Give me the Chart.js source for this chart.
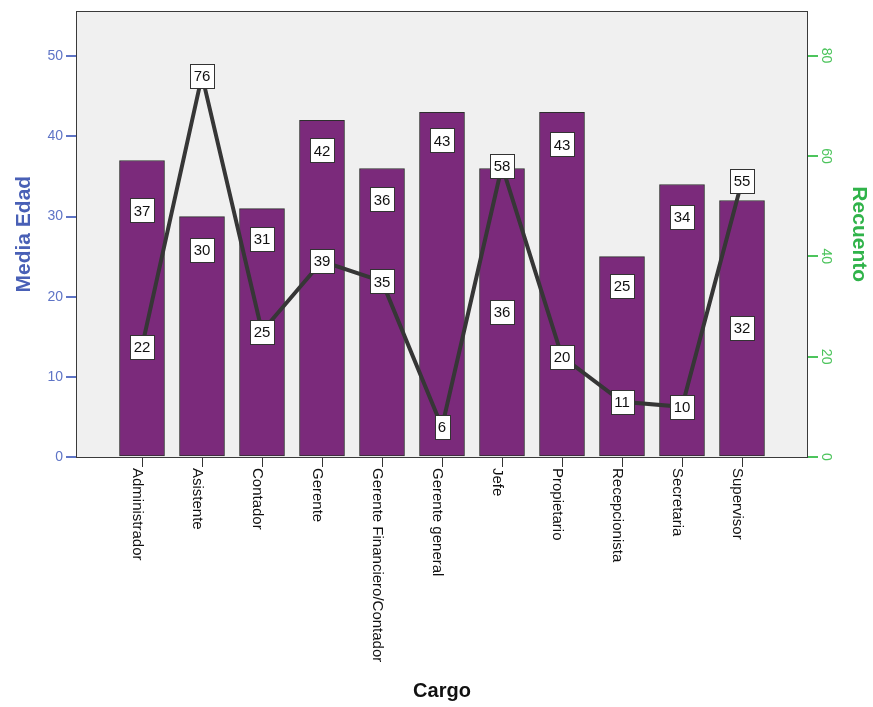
<!DOCTYPE html>
<html>
<head>
<meta charset="utf-8">
<script src="https://cdn.jsdelivr.net/npm/chart.js@4/dist/chart.umd.min.js"></script>
<style>
  html, body { margin: 0; padding: 0; background: #fff; }
  #wrap { position: relative; width: 873px; height: 707px; }
</style>
</head>
<body>
<div id="wrap"><canvas id="chart"></canvas></div>
<script>
const cargos = ['Administrador', 'Asistente', 'Contador', 'Gerente', 'Gerente Financiero/Contador',
  'Gerente general', 'Jefe', 'Propietario', 'Recepcionista', 'Secretaria', 'Supervisor'];
const mediaEdad = [37, 30, 31, 42, 36, 43, 36, 43, 25, 34, 32];
const recuento = [22, 76, 25, 39, 35, 6, 58, 20, 11, 10, 55];
const edadTicks = [0, 10, 20, 30, 40, 50];
const recuentoTicks = [0, 20, 40, 60, 80];

const FONT = '"Liberation Sans", Arial, sans-serif';
const BLUE = '#4960b6', BLUE_TICK = '#5e74c6';
const GREEN = '#30b34a', GREEN_TICK = '#4cc45c';

// how far below the bar top each bar label sits (null = middle of the bar)
const barLabelDrop = [50, 33, 30, 30, 31, 28, null, 32, 29, 32, null];

function labelBox(ctx, text, cx, cy) {
  ctx.font = '15px ' + FONT;
  const w = Math.round(ctx.measureText(text).width + 7);
  const h = 24;
  const x = Math.round(cx - w / 2) + 0.5;
  const y = Math.round(cy - h / 2) + 0.5;
  ctx.fillStyle = '#fff';
  ctx.fillRect(x, y, w, h);
  ctx.strokeStyle = '#333';
  ctx.lineWidth = 1;
  ctx.strokeRect(x, y, w, h);
  ctx.fillStyle = '#111';
  ctx.textAlign = 'center';
  ctx.textBaseline = 'middle';
  ctx.fillText(text, cx, cy + 1);
}

const framePlugin = {
  id: 'frame',
  beforeDatasetsDraw(chart) {
    const { ctx, chartArea: a } = chart;
    ctx.save();
    ctx.fillStyle = '#f0f0f0';
    ctx.fillRect(a.left, a.top, a.right - a.left, a.bottom - a.top);
    ctx.restore();
  },
  afterDatasetsDraw(chart) {
    const { ctx, chartArea: a } = chart;
    ctx.save();
    ctx.strokeStyle = '#3a3a3a';
    ctx.lineWidth = 1;
    ctx.strokeRect(Math.round(a.left) + 0.5, Math.round(a.top) + 0.5,
      Math.round(a.right - a.left) - 1, Math.round(a.bottom - a.top));
    ctx.restore();
  },
  afterDraw(chart) {
    const ctx = chart.ctx;
    const xs = chart.scales.x, y1 = chart.scales.y1;
    ctx.save();

    // category names, rotated to read downwards
    ctx.font = '15px ' + FONT;
    ctx.fillStyle = '#111';
    ctx.textAlign = 'left';
    ctx.textBaseline = 'alphabetic';
    cargos.forEach((c, i) => {
      const px = xs.getPixelForValue(i);
      ctx.save();
      ctx.translate(px - 9, xs.top + 11);
      ctx.rotate(Math.PI / 2);
      ctx.fillText(c, 0, 0);
      ctx.restore();
    });

    // right axis values, also rotated
    ctx.font = '14px ' + FONT;
    ctx.fillStyle = GREEN_TICK;
    ctx.textAlign = 'center';
    recuentoTicks.forEach(v => {
      const py = y1.getPixelForValue(v);
      ctx.save();
      ctx.translate(y1.left + 14, py);
      ctx.rotate(Math.PI / 2);
      ctx.fillText(String(v), 0, 0);
      ctx.restore();
    });

    // bar labels
    const bars = chart.getDatasetMeta(1).data;
    bars.forEach((el, i) => {
      const drop = barLabelDrop[i];
      const cy = drop === null ? (el.y + el.base) / 2 : el.y + drop;
      labelBox(ctx, String(mediaEdad[i]), el.x, cy);
    });

    // line labels
    const pts = chart.getDatasetMeta(0).data;
    pts.forEach((el, i) => labelBox(ctx, String(recuento[i]), el.x, el.y));

    ctx.restore();
  }
};

new Chart(document.getElementById('chart'), {
  data: {
    datasets: [
      {
        type: 'line',
        label: 'Recuento',
        data: recuento.map((v, i) => ({ x: i, y: v })),
        yAxisID: 'y1',
        borderColor: '#363636',
        borderWidth: 4,
        borderJoinStyle: 'miter',
        pointRadius: 0,
        tension: 0,
        order: 0
      },
      {
        type: 'bar',
        label: 'Media Edad',
        data: mediaEdad.map((v, i) => ({ x: i, y: v })),
        yAxisID: 'y',
        backgroundColor: '#7b2a7b',
        borderColor: '#2e2e2e',
        borderWidth: 1,
        borderSkipped: false,
        barThickness: 45,
        order: 1
      }
    ]
  },
  options: {
    responsive: true,
    maintainAspectRatio: false,
    animation: false,
    layout: { padding: { top: 10, left: 0, right: 0, bottom: 0 } },
    plugins: { legend: { display: false }, tooltip: { enabled: false } },
    scales: {
      x: {
        type: 'linear',
        position: 'bottom',
        min: -1.1,
        max: 11.1,
        offset: false,
        afterBuildTicks: s => { s.ticks = cargos.map((_, i) => ({ value: i })); },
        afterFit: s => { s.height = 250; },
        ticks: { display: false },
        grid: { offset: false, drawOnChartArea: false, drawTicks: true, tickLength: 10, color: '#333' },
        border: { display: false },
        title: {
          display: true, text: 'Cargo', color: '#111',
          font: { family: FONT, size: 20, weight: 'bold' },
          padding: { top: 0, bottom: 4 }
        }
      },
      y: {
        position: 'left',
        min: 0,
        max: 55.6,
        afterBuildTicks: s => { s.ticks = edadTicks.map(v => ({ value: v })); },
        afterFit: s => { s.width = 76; },
        ticks: { color: BLUE_TICK, font: { family: FONT, size: 14 }, padding: 3 },
        grid: { drawOnChartArea: false, tickLength: 10, color: BLUE_TICK, lineWidth: 2 },
        border: { display: false },
        title: {
          display: true, text: 'Media Edad', color: BLUE,
          font: { family: FONT, size: 21, weight: 'bold' },
          padding: { top: 12, bottom: 0 }
        }
      },
      y1: {
        position: 'right',
        min: 0,
        max: 88.8,
        afterBuildTicks: s => { s.ticks = recuentoTicks.map(v => ({ value: v })); },
        afterFit: s => { s.width = 65; },
        ticks: { display: false },
        grid: { drawOnChartArea: false, tickLength: 10, color: GREEN_TICK, lineWidth: 2 },
        border: { display: false },
        title: {
          display: true, text: 'Recuento', color: GREEN,
          font: { family: FONT, size: 21, weight: 'bold' },
          padding: { top: 2, bottom: 0 }
        }
      }
    }
  },
  plugins: [framePlugin]
});
</script>
</body>
</html>
